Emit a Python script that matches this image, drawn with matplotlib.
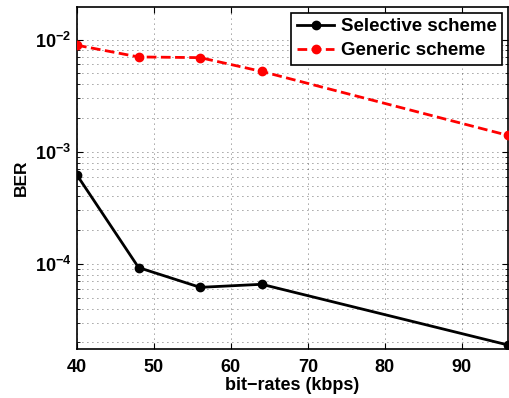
import math
import matplotlib
matplotlib.use("Agg")
import matplotlib.pyplot as plt
from matplotlib.ticker import LogLocator, FuncFormatter, NullFormatter

plt.rcParams['font.family'] = ['Liberation Sans', 'DejaVu Sans']
plt.rcParams['font.weight'] = 'bold'
plt.rcParams['mathtext.fontset'] = 'custom'
plt.rcParams['mathtext.rm'] = 'Liberation Sans:bold'
plt.rcParams['mathtext.bf'] = 'Liberation Sans:bold'
plt.rcParams['mathtext.it'] = 'Liberation Sans:bold'

bitrates = [40, 48, 56, 64, 96]
selective = [6.2e-4, 9.3e-5, 6.2e-5, 6.6e-5, 1.9e-5]
generic = [8.9e-3, 7.0e-3, 6.9e-3, 5.2e-3, 1.4e-3]
xticks = [40, 50, 60, 70, 80, 90]

fig = plt.figure(figsize=(5.09, 3.98), dpi=100)
ax = fig.add_axes([77/509, 1 - 349/398, (508 - 77)/509, (349 - 7)/398])

ax.plot(bitrates, selective, '-', color='black', lw=2, marker='o', ms=6,
        label='Selective scheme', zorder=3)
ax.plot(bitrates, generic, '--', color='red', lw=2, marker='o', ms=6,
        dashes=(3.5, 1.6), label='Generic scheme', zorder=3)

ax.set_yscale('log')
ax.set_xlim(40, 96)
ax.set_ylim(1.75e-5, 1.95e-2)
ax.set_xticks(xticks)
ax.set_xticklabels([str(v) for v in xticks])
ax.yaxis.set_major_locator(LogLocator(base=10, numticks=10))
ax.yaxis.set_minor_locator(LogLocator(base=10, subs=range(2, 10), numticks=20))
ax.yaxis.set_major_formatter(FuncFormatter(lambda v, p: r'$\mathbf{10^{%d}}$' % round(math.log10(v))))
ax.yaxis.set_minor_formatter(NullFormatter())

ax.grid(True, which='major', axis='both', linestyle=(0, (1, 5)), color='black', lw=0.6, alpha=0.75)
ax.grid(True, which='minor', axis='y', linestyle=(0, (1, 5)), color='black', lw=0.6, alpha=0.75)

ax.tick_params(which='both', direction='in', top=True, right=True, labelsize=13)
ax.tick_params(which='major', length=4)
ax.tick_params(which='minor', length=2)
ax.tick_params(axis='x', pad=7)
ax.tick_params(axis='y', pad=4)
for s in ax.spines.values():
    s.set_linewidth(1.2)

ax.set_xlabel('bit\u2212rates (kbps)', fontsize=13, fontweight='bold', labelpad=1)
ax.set_ylabel('BER', fontsize=12.5, fontweight='bold', labelpad=4)

leg = ax.legend(loc='upper right', fontsize=13.5, frameon=True, fancybox=False,
                edgecolor='black', framealpha=1, borderpad=0.3, handlelength=2.0,
                labelspacing=0.35, borderaxespad=0.3, handletextpad=0.35)
leg.get_frame().set_linewidth(1.2)
for t in leg.get_texts():
    t.set_fontweight('bold')

fig.savefig('out.png', dpi=100)
